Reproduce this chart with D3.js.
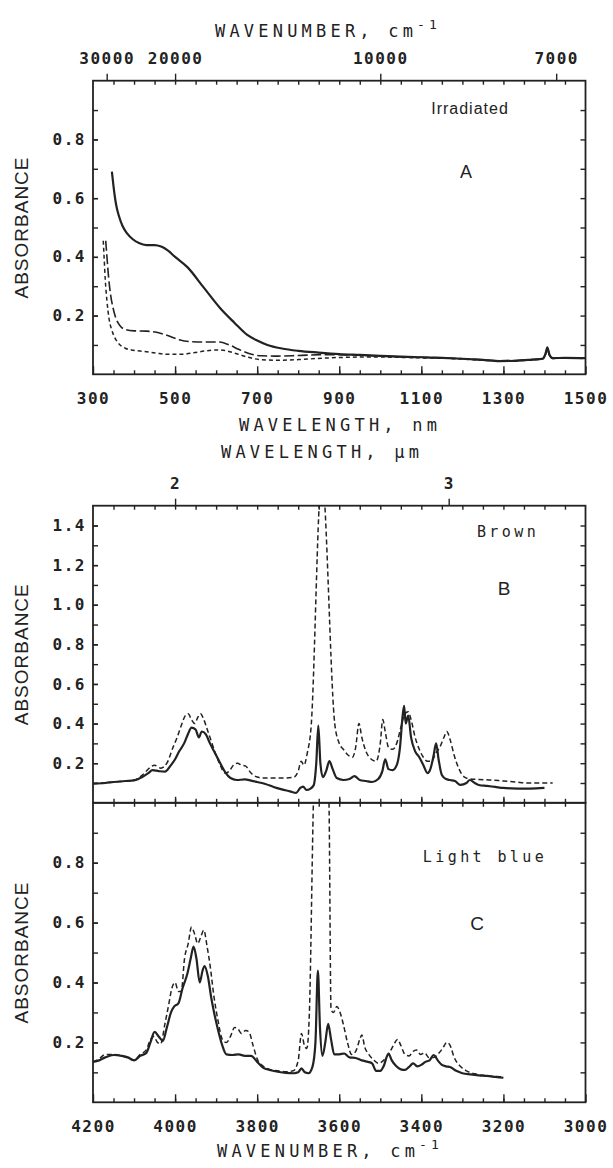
<!DOCTYPE html>
<html>
<head>
<meta charset="utf-8">
<script src="https://cdn.jsdelivr.net/npm/d3@7"></script>
<style>
  body { margin: 0; background: #fff; }
  svg { display: block; background: #fff; }
  .axis path.domain { display: none; }
  .axis line { stroke: #222; stroke-width: 1.4; }
  .axis text { font-family: "DejaVu Sans Mono", monospace; font-weight: bold; font-size: 16px; letter-spacing: 1.5px; fill: #222; font-feature-settings: "zero" 1; }
  .title { font-family: "DejaVu Sans Mono", monospace; font-size: 17px; letter-spacing: 4.2px; fill: #222; }
  .ylab { font-family: "Liberation Sans", Arial, sans-serif; font-size: 19px; letter-spacing: 1px; fill: #222; }
  .note { font-family: "Liberation Sans", Arial, sans-serif; fill: #222; }
  .mono { font-family: "DejaVu Sans Mono", monospace; font-size: 15px; letter-spacing: 3.4px; fill: #222; }
</style>
</head>
<body>
<svg id="chart-svg" width="613" height="1168"></svg>
<script>
// ---- tick labels ----
const nmTicks = [300, 500, 700, 900, 1100, 1300, 1500];
const wnTopTicks = [30000, 20000, 10000, 7000];          // cm-1, panel A top axis
const umTicks = [2.5, 3.0];                              // micrometres, panel B top axis
const umLabels = ["2", "3"];
const wnTicks = [4200, 4000, 3800, 3600, 3400, 3200, 3000];
const yTicksA = [0.2, 0.4, 0.6, 0.8];
const yTicksB = [0.2, 0.4, 0.6, 0.8, 1.0, 1.2, 1.4];
const yTicksC = [0.2, 0.4, 0.6, 0.8];

// ---- panel A : wavelength (nm), absorbance ----
const aSolid = [[346,0.69],[350,0.64],[356,0.58],[363,0.54],[372,0.505],[383,0.48],[397,0.46],[412,0.447],[430,0.44],[450,0.44],[466,0.435],[482,0.422],[500,0.40],[530,0.365],[570,0.295],[610,0.225],[645,0.175],[675,0.135],[700,0.115],[725,0.10],[760,0.088],[800,0.080],[850,0.074],[900,0.069],[950,0.066],[1000,0.063],[1050,0.060],[1100,0.058],[1150,0.056],[1200,0.053],[1250,0.049],[1290,0.045],[1330,0.046],[1370,0.050],[1395,0.053],[1402,0.068],[1407,0.092],[1412,0.068],[1420,0.055],[1450,0.056],[1500,0.055]];
const aLongDash = [[331,0.455],[334,0.40],[338,0.33],[343,0.27],[349,0.225],[356,0.19],[366,0.165],[380,0.152],[400,0.148],[430,0.147],[455,0.143],[480,0.133],[510,0.118],[540,0.111],[575,0.110],[608,0.110],[632,0.100],[655,0.085],[680,0.071],[710,0.063],[750,0.062],[800,0.064],[860,0.067],[920,0.066],[980,0.063],[1040,0.060],[1100,0.058],[1150,0.056],[1200,0.053],[1250,0.049],[1290,0.046],[1330,0.047],[1370,0.050],[1395,0.053],[1402,0.066],[1407,0.088],[1412,0.066],[1420,0.055],[1450,0.056],[1500,0.055]];
const aShortDash = [[325,0.455],[327,0.40],[330,0.32],[334,0.25],[339,0.19],[346,0.15],[355,0.12],[366,0.100],[380,0.088],[398,0.082],[425,0.078],[455,0.072],[485,0.068],[515,0.068],[545,0.073],[575,0.080],[602,0.083],[625,0.080],[650,0.070],[678,0.058],[708,0.050],[750,0.048],[800,0.050],[860,0.055],[920,0.058],[980,0.059],[1040,0.058],[1100,0.056],[1150,0.055],[1200,0.052],[1250,0.048],[1290,0.045],[1330,0.046],[1370,0.049],[1395,0.052],[1402,0.064],[1407,0.085],[1412,0.064],[1420,0.054],[1450,0.055],[1500,0.054]];

// ---- panel B (Brown) : wavenumber (cm-1), absorbance ----
const bSolid = [[4200,0.097],[4170,0.100],[4150,0.105],[4120,0.110],[4100,0.113],[4080,0.130],[4065,0.150],[4055,0.165],[4040,0.160],[4025,0.157],[4010,0.190],[4000,0.220],[3990,0.260],[3978,0.300],[3968,0.350],[3960,0.380],[3950,0.370],[3942,0.330],[3935,0.360],[3925,0.345],[3915,0.300],[3905,0.260],[3890,0.200],[3878,0.155],[3865,0.125],[3850,0.115],[3830,0.118],[3815,0.112],[3800,0.105],[3780,0.095],[3760,0.080],[3740,0.068],[3720,0.058],[3705,0.050],[3695,0.075],[3688,0.082],[3680,0.065],[3670,0.072],[3662,0.090],[3656,0.200],[3651,0.390],[3646,0.200],[3640,0.130],[3632,0.160],[3624,0.210],[3616,0.170],[3606,0.125],[3590,0.115],[3575,0.120],[3563,0.135],[3550,0.115],[3535,0.110],[3520,0.105],[3505,0.120],[3495,0.160],[3488,0.220],[3480,0.170],[3470,0.165],[3460,0.190],[3452,0.280],[3446,0.430],[3442,0.490],[3438,0.400],[3432,0.440],[3425,0.330],[3415,0.260],[3405,0.230],[3395,0.190],[3385,0.150],[3378,0.170],[3370,0.240],[3364,0.300],[3358,0.220],[3350,0.140],[3340,0.120],[3330,0.115],[3318,0.110],[3305,0.090],[3290,0.100],[3282,0.115],[3270,0.100],[3260,0.090],[3240,0.085],[3220,0.080],[3200,0.075],[3180,0.073],[3150,0.072],[3120,0.073],[3100,0.075]];
const bDash = [[4200,0.097],[4150,0.105],[4100,0.115],[4080,0.140],[4060,0.180],[4050,0.190],[4035,0.175],[4020,0.200],[4005,0.280],[3995,0.330],[3985,0.390],[3975,0.440],[3968,0.450],[3960,0.420],[3952,0.400],[3945,0.430],[3938,0.450],[3930,0.420],[3920,0.360],[3910,0.300],[3900,0.240],[3890,0.190],[3878,0.150],[3868,0.160],[3858,0.190],[3848,0.200],[3838,0.190],[3828,0.185],[3815,0.150],[3800,0.130],[3785,0.125],[3760,0.125],[3730,0.125],[3710,0.130],[3700,0.160],[3693,0.210],[3686,0.190],[3678,0.250],[3668,0.400],[3649,1.500],[3642,1.750],[3635,1.500],[3611,0.400],[3600,0.300],[3590,0.270],[3578,0.240],[3568,0.230],[3560,0.280],[3552,0.400],[3545,0.330],[3535,0.260],[3522,0.220],[3510,0.210],[3500,0.300],[3494,0.420],[3488,0.360],[3480,0.280],[3470,0.270],[3460,0.300],[3450,0.380],[3440,0.450],[3432,0.460],[3425,0.420],[3415,0.330],[3405,0.270],[3395,0.230],[3385,0.210],[3375,0.210],[3365,0.250],[3355,0.280],[3345,0.330],[3338,0.360],[3330,0.320],[3320,0.240],[3308,0.170],[3295,0.130],[3280,0.120],[3260,0.118],[3230,0.115],[3200,0.110],[3170,0.105],[3140,0.100],[3110,0.100],[3080,0.100]];

// ---- panel C (Light blue) ----
const cSolid = [[4200,0.135],[4185,0.140],[4170,0.150],[4150,0.158],[4130,0.155],[4115,0.150],[4100,0.140],[4085,0.155],[4070,0.165],[4060,0.200],[4050,0.235],[4040,0.220],[4030,0.205],[4020,0.250],[4010,0.300],[4002,0.320],[3992,0.330],[3982,0.380],[3970,0.430],[3962,0.480],[3955,0.520],[3948,0.480],[3940,0.400],[3933,0.440],[3928,0.455],[3920,0.420],[3912,0.350],[3905,0.300],[3895,0.240],[3885,0.190],[3875,0.160],[3860,0.158],[3845,0.160],[3830,0.155],[3815,0.155],[3800,0.135],[3785,0.115],[3770,0.108],[3750,0.102],[3730,0.098],[3710,0.097],[3700,0.100],[3692,0.113],[3684,0.100],[3675,0.097],[3665,0.120],[3658,0.200],[3652,0.440],[3647,0.250],[3641,0.155],[3634,0.200],[3627,0.262],[3620,0.210],[3612,0.160],[3600,0.160],[3588,0.163],[3575,0.150],[3560,0.148],[3545,0.140],[3530,0.135],[3520,0.130],[3510,0.105],[3500,0.105],[3492,0.120],[3480,0.163],[3472,0.140],[3462,0.122],[3450,0.110],[3440,0.108],[3430,0.118],[3420,0.130],[3410,0.120],[3400,0.125],[3390,0.135],[3380,0.140],[3370,0.158],[3360,0.140],[3350,0.125],[3340,0.120],[3330,0.118],[3315,0.105],[3300,0.097],[3280,0.093],[3260,0.090],[3240,0.088],[3220,0.085],[3200,0.082]];
const cDash = [[4200,0.135],[4185,0.145],[4170,0.160],[4150,0.160],[4130,0.155],[4110,0.145],[4100,0.140],[4085,0.160],[4070,0.175],[4060,0.210],[4052,0.220],[4043,0.200],[4035,0.195],[4025,0.260],[4015,0.330],[4008,0.380],[4000,0.400],[3992,0.370],[3985,0.370],[3977,0.480],[3968,0.530],[3960,0.585],[3952,0.560],[3945,0.530],[3938,0.550],[3930,0.575],[3922,0.520],[3915,0.460],[3905,0.350],[3895,0.270],[3885,0.210],[3875,0.200],[3865,0.220],[3855,0.250],[3847,0.245],[3838,0.230],[3828,0.240],[3820,0.235],[3810,0.190],[3800,0.145],[3785,0.120],[3770,0.110],[3750,0.105],[3730,0.102],[3712,0.105],[3700,0.140],[3692,0.230],[3685,0.190],[3679,0.180],[3673,0.290],[3663,1.000],[3644,1.600],[3625,1.000],[3620,0.310],[3614,0.300],[3606,0.320],[3598,0.300],[3590,0.260],[3580,0.200],[3570,0.160],[3560,0.170],[3550,0.210],[3545,0.225],[3538,0.185],[3528,0.160],[3515,0.140],[3505,0.130],[3492,0.140],[3480,0.160],[3468,0.190],[3458,0.210],[3450,0.190],[3440,0.160],[3430,0.155],[3420,0.170],[3412,0.175],[3402,0.160],[3392,0.165],[3382,0.150],[3370,0.150],[3360,0.160],[3348,0.180],[3338,0.200],[3330,0.190],[3320,0.150],[3305,0.120],[3290,0.105],[3270,0.095],[3250,0.090],[3230,0.087],[3200,0.085]];

const svg = d3.select("#chart-svg");
const left = 93, right = 585.5;

const xNm = d3.scaleLinear().domain([300, 1500]).range([left, right]);
const xWn = d3.scaleLinear().domain([4200, 3000]).range([left, right]);
const yA = d3.scaleLinear().domain([0, 1]).range([374.3, 80.7]);
const yB = d3.scaleLinear().domain([0, 1.5]).range([802.8, 505.7]);
const yC = d3.scaleLinear().domain([0, 1]).range([1102.3, 802.8]);

const defs = svg.append("defs");
function clipFor(id, x, y) {
    defs.append("clipPath").attr("id", id)
        .append("rect")
        .attr("x", x.range()[0]).attr("y", y.range()[1])
        .attr("width", x.range()[1] - x.range()[0])
        .attr("height", y.range()[0] - y.range()[1]);
}
clipFor("clipA", xNm, yA);
clipFor("clipB", xWn, yB);
clipFor("clipC", xWn, yC);

function frame(x, y) {
    svg.append("rect")
        .attr("x", x.range()[0]).attr("y", y.range()[1])
        .attr("width", x.range()[1] - x.range()[0])
        .attr("height", y.range()[0] - y.range()[1])
        .attr("fill", "none").attr("stroke", "#222").attr("stroke-width", 1.8);
}

function addAxis(axis, tx, ty) {
    return svg.append("g").attr("class", "axis")
        .attr("transform", `translate(${tx},${ty})`)
        .call(axis);
}

// y axes with inward ticks, labels on the left
function yAxes(y, labels) {
    const hi = y.domain()[1];
    const minor = d3.range(0.1, hi + 0.001, 0.1).filter(v => v < hi - 0.001);
    addAxis(d3.axisLeft(y).tickValues(minor).tickSize(-5).tickFormat(""), left, 0);
    addAxis(d3.axisLeft(y).tickValues(labels).tickSize(-5).tickPadding(7).tickFormat(d3.format(".1f")), left, 0);
    addAxis(d3.axisRight(y).tickValues(minor).tickSize(-5).tickFormat(""), right, 0);
}

function curve(data, x, y, clip, dash, w) {
    svg.append("path").datum(data)
        .attr("clip-path", `url(#${clip})`)
        .attr("fill", "none")
        .attr("stroke", "#222")
        .attr("stroke-width", w)
        .attr("stroke-linejoin", "round")
        .attr("stroke-dasharray", dash)
        .attr("d", d3.line().x(d => x(d[0])).y(d => y(d[1])).curve(d3.curveMonotoneX));
}

// ---------- PANEL A ----------
frame(xNm, yA);
yAxes(yA, yTicksA);
const nmMinor = d3.range(350, 1500, 50);
addAxis(d3.axisBottom(xNm).tickValues(nmMinor).tickSize(-4).tickFormat(""), 0, yA.range()[0]);
addAxis(d3.axisBottom(xNm).tickValues(nmTicks).tickSize(-8).tickPadding(18).tickFormat(d3.format("d")), 0, yA.range()[0]);
addAxis(d3.axisTop(xNm).tickValues(nmMinor).tickSize(-4).tickFormat(""), 0, yA.range()[1]);
addAxis(d3.axisTop(xNm).tickValues(wnTopTicks.map(w => 1e7 / w)).tickSize(7).tickPadding(10)
    .tickFormat((d, i) => wnTopTicks[i]), 0, yA.range()[1]);
curve(aShortDash, xNm, yA, "clipA", "4,3", 1.5);
curve(aLongDash, xNm, yA, "clipA", "10,3.5", 1.6);
curve(aSolid, xNm, yA, "clipA", null, 2.2);

// ---------- PANEL B ----------
frame(xWn, yB);
yAxes(yB, yTicksB);
const wnMinor = d3.range(4150, 3000, -50);
addAxis(d3.axisBottom(xWn).tickValues(wnMinor).tickSize(-4).tickFormat(""), 0, yB.range()[0]);
addAxis(d3.axisBottom(xWn).tickValues(wnTicks.slice(1, -1)).tickSize(-6).tickFormat(""), 0, yB.range()[0]);
addAxis(d3.axisTop(xWn).tickValues(wnMinor).tickSize(-4).tickFormat(""), 0, yB.range()[1]);
addAxis(d3.axisTop(xWn).tickValues(umTicks.map(u => 1e4 / u)).tickSize(7).tickPadding(10)
    .tickFormat((d, i) => umLabels[i]), 0, yB.range()[1]);
curve(bDash, xWn, yB, "clipB", "5,3", 1.5);
curve(bSolid, xWn, yB, "clipB", null, 2.2);

// ---------- PANEL C ----------
frame(xWn, yC);
yAxes(yC, yTicksC);
addAxis(d3.axisTop(xWn).tickValues(wnMinor).tickSize(-4).tickFormat(""), 0, yC.range()[1]);
addAxis(d3.axisBottom(xWn).tickValues(wnMinor).tickSize(-4).tickFormat(""), 0, yC.range()[0]);
addAxis(d3.axisBottom(xWn).tickValues(wnTicks).tickSize(-8).tickPadding(18).tickFormat(d3.format("d")), 0, yC.range()[0]);
curve(cDash, xWn, yC, "clipC", "5,3", 1.5);
curve(cSolid, xWn, yC, "clipC", null, 2.2);

// ---------- titles ----------
function title(txt, sup, x, y) {
    const t = svg.append("text").attr("class", "title").attr("x", x).attr("y", y).text(txt);
    if (sup) t.append("tspan").attr("dy", -8).style("font-size", "13px").text(sup);
}
title("WAVENUMBER, cm", "-1", 215, 37);
title("WAVELENGTH, nm", null, 239, 431);
title("WAVELENGTH, \u00b5m", null, 221, 458);
title("WAVENUMBER, cm", "-1", 217, 1157);

[yA, yB, yC].forEach(y => {
    svg.append("text").attr("class", "ylab")
        .attr("transform", `translate(28,${(y.range()[0] + y.range()[1]) / 2}) rotate(-90)`)
        .attr("text-anchor", "middle")
        .text("ABSORBANCE");
});

// panel annotations
svg.append("text").attr("class", "note").attr("x", 470).attr("y", 114)
    .attr("text-anchor", "middle").style("font-size", "16px").style("letter-spacing", "1px").text("Irradiated");
svg.append("text").attr("class", "note").attr("x", 466).attr("y", 178)
    .attr("text-anchor", "middle").style("font-size", "18px").text("A");
svg.append("text").attr("class", "mono").attr("x", 508).attr("y", 537)
    .attr("text-anchor", "middle").text("Brown");
svg.append("text").attr("class", "note").attr("x", 504).attr("y", 595)
    .attr("text-anchor", "middle").style("font-size", "19px").text("B");
svg.append("text").attr("class", "mono").attr("x", 485).attr("y", 862)
    .attr("text-anchor", "middle").text("Light blue");
svg.append("text").attr("class", "note").attr("x", 477).attr("y", 930)
    .attr("text-anchor", "middle").style("font-size", "19px").text("C");
</script>
</body>
</html>
